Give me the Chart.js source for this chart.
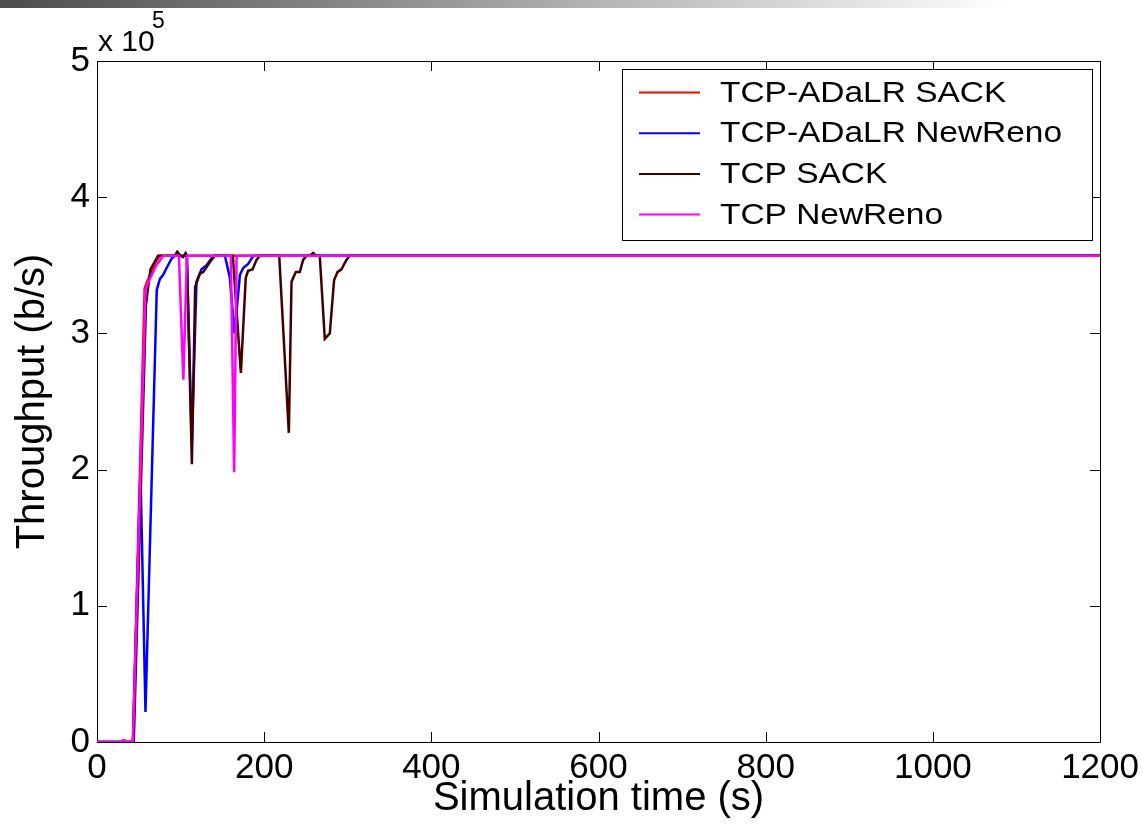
<!DOCTYPE html>
<html>
<head>
<meta charset="utf-8">
<title>Throughput vs simulation time</title>
<script src="https://cdn.jsdelivr.net/npm/chart.js@4.4.1/dist/chart.umd.min.js"></script>
<style>
  body { margin: 0; background: #fff; }
  #wrap { position: relative; width: 1144px; height: 827px; }
  #topbar { position: absolute; left: 0; top: 0; width: 1144px; height: 8px;
            background: linear-gradient(to right, #4c4c4c 0%, #9a9a9a 40%, #ffffff 88%); }
  canvas { position: absolute; left: 0; top: 0; }
</style>
</head>
<body>
<div id="wrap">
  <div id="topbar"></div>
  <canvas id="throughputChart" width="1144" height="827"></canvas>
</div>
<script>
// series data (time in s, throughput in b/s)
const adalrSackTime = [0, 43, 57, 60, 66, 70, 75, 1200];
const adalrSackRate = [0, 0, 333000, 338000, 346000, 352000, 357000, 357000];

const adalrRenoTime = [0, 43, 52, 58, 71.5, 75.3, 79.2, 83.3, 89.3, 93.2, 107.5, 113.5, 119, 125, 131, 137, 141,
                       153, 158.9, 164.5, 171, 174.9, 180.8, 186, 188, 1200];
const adalrRenoRate = [0, 0, 199000, 22000, 332000, 340000, 343000, 348000, 355000, 357000, 357000, 220000, 338000, 347000, 350000, 355000, 357000,
                       357000, 341000, 300000, 343000, 348000, 351000, 356000, 357000, 357000];

const sackTime = [0, 44, 58.5, 61, 64, 73, 93, 96, 100, 103, 106, 107.5, 113.5, 117.4, 123.1, 127.1, 137, 141,
                  162.5, 172.1, 178, 180.8, 186, 190.9, 194.8,
                  218, 229.5, 232.7, 237.8, 242.6, 246.6, 250.6, 255, 258.5, 262,
                  266.5, 272.5, 278.5, 283.6, 287.7, 292.4, 298.4, 302.4, 1200];
const sackRate = [0, 0, 320000, 333000, 347000, 357000, 357000, 360000, 357000, 356000, 359000, 357000, 204000, 334000, 344000, 345000, 354000, 357000,
                  357000, 271000, 341000, 346000, 347000, 354000, 357000,
                  357000, 227000, 338000, 345000, 345000, 354000, 357000, 357000, 359000, 357000,
                  357000, 296000, 300000, 339000, 345000, 347000, 354000, 357000, 357000];

const newRenoTime = [0, 28, 32, 36, 43, 58, 61, 71, 76, 79, 98, 103.3, 107.6, 160.1, 164.1, 167, 1200];
const newRenoRate = [0, 0, 1500, 0, 0, 332000, 337000, 350000, 354000, 357000, 357000, 266000, 357000, 357000, 198000, 357000, 357000];

const seriesLabels = ['TCP-ADaLR SACK', 'TCP-ADaLR NewReno', 'TCP SACK', 'TCP NewReno'];
const seriesColors = ['#ff0000', '#0000ff', '#400000', '#ff00ff'];

const xTicks = [0, 200, 400, 600, 800, 1000, 1200];
const yTicks = [0, 100000, 200000, 300000, 400000, 500000];

function toPoints(t, v) {
    return t.map((x, i) => ({ x: x, y: v[i] }));
}

// axes box with inward ticks, MATLAB style
const framePlugin = {
    id: 'frame',
    beforeDatasetsDraw(chart) {
        const ctx = chart.ctx;
        const a = chart.chartArea;
        const xs = chart.scales.x, ys = chart.scales.y;
        ctx.save();
        ctx.strokeStyle = '#000';
        ctx.lineWidth = 1;
        ctx.beginPath();
        ctx.rect(Math.round(a.left) + 0.5, Math.round(a.top) + 0.5,
                 Math.round(a.right - a.left), Math.round(a.bottom - a.top));
        xTicks.forEach(v => {
            const px = Math.round(xs.getPixelForValue(v)) + 0.5;
            ctx.moveTo(px, a.bottom); ctx.lineTo(px, a.bottom - 10);
            ctx.moveTo(px, a.top); ctx.lineTo(px, a.top + 10);
        });
        yTicks.forEach(v => {
            const py = Math.round(ys.getPixelForValue(v)) + 0.5;
            ctx.moveTo(a.left, py); ctx.lineTo(a.left + 10, py);
            ctx.moveTo(a.right, py); ctx.lineTo(a.right - 10, py);
        });
        ctx.stroke();
        ctx.restore();
    },
    afterDraw(chart) {
        const ctx = chart.ctx;
        ctx.save();
        ctx.fillStyle = '#000';
        ctx.textBaseline = 'alphabetic';
        ctx.font = '30px "Liberation Sans", Arial, sans-serif';
        ctx.fillText('x 10', 98, 51);
        ctx.font = '23px "Liberation Sans", Arial, sans-serif';
        ctx.fillText('5', 152, 28);
        ctx.restore();
    }
};

// legend box inside the plot, top right
const boxLegendPlugin = {
    id: 'boxLegend',
    afterDraw(chart) {
        const ctx = chart.ctx;
        const bx = 622, by = 69, bw = 470, bh = 171;
        ctx.save();
        ctx.fillStyle = '#fff';
        ctx.fillRect(bx, by, bw, bh);
        ctx.strokeStyle = '#000';
        ctx.lineWidth = 1;
        ctx.strokeRect(bx + 0.5, by + 0.5, bw, bh);
        ctx.font = '30px "Liberation Sans", Arial, sans-serif';
        ctx.textBaseline = 'middle';
        chart.data.datasets.forEach((ds, i) => {
            const y = 92.5 + i * 40.7;
            ctx.strokeStyle = ds.borderColor;
            ctx.lineWidth = 2;
            ctx.beginPath();
            ctx.moveTo(639, y);
            ctx.lineTo(700, y);
            ctx.stroke();
            ctx.fillStyle = '#000';
            ctx.save();
            ctx.translate(720, y + 1);
            ctx.scale(1.115, 1);
            ctx.fillText(ds.label, 0, 0);
            ctx.restore();
        });
        ctx.restore();
    }
};

document.addEventListener('DOMContentLoaded', function() {
    const ctx = document.getElementById('throughputChart').getContext('2d');
    const times = [adalrSackTime, adalrRenoTime, sackTime, newRenoTime];
    const rates = [adalrSackRate, adalrRenoRate, sackRate, newRenoRate];

    new Chart(ctx, {
        type: 'line',
        data: {
            datasets: seriesLabels.map((label, i) => ({
                label: label,
                data: toPoints(times[i], rates[i]),
                borderColor: seriesColors[i],
                backgroundColor: seriesColors[i],
                borderWidth: 2.5,
                pointRadius: 0,
                tension: 0,
                fill: false,
                // later series lie on top, as in the original figure
                order: seriesLabels.length - i
            }))
        },
        options: {
            responsive: false,
            animation: false,
            devicePixelRatio: 1,
            layout: { padding: { left: 0, right: 43, top: 61, bottom: 0 } },
            plugins: {
                legend: { display: false },
                tooltip: { enabled: false }
            },
            scales: {
                x: {
                    type: 'linear',
                    min: 0,
                    max: 1200,
                    afterBuildTicks: s => { s.ticks = xTicks.map(v => ({ value: v })); },
                    afterFit: s => { s.height = 85; },
                    grid: { display: false, drawTicks: false },
                    border: { display: false },
                    ticks: {
                        autoSkip: false,
                        maxRotation: 0,
                        color: '#000',
                        padding: 5,
                        font: { family: '"Liberation Sans", Arial, sans-serif', size: 35 },
                        callback: v => String(v)
                    },
                    title: {
                        display: true,
                        text: 'Simulation time (s)',
                        color: '#000',
                        padding: { top: 0, bottom: 4 },
                        font: { family: '"Liberation Sans", Arial, sans-serif', size: 40 }
                    }
                },
                y: {
                    min: 0,
                    max: 500000,
                    afterBuildTicks: s => { s.ticks = yTicks.map(v => ({ value: v })); },
                    afterFit: s => { s.width = 97; },
                    grid: { display: false, drawTicks: false },
                    border: { display: false },
                    ticks: {
                        autoSkip: false,
                        color: '#000',
                        padding: 7,
                        font: { family: '"Liberation Sans", Arial, sans-serif', size: 35 },
                        callback: v => String(v / 100000)
                    },
                    title: {
                        display: true,
                        text: 'Throughput (b/s)',
                        color: '#000',
                        padding: { top: 9, bottom: 0 },
                        font: { family: '"Liberation Sans", Arial, sans-serif', size: 40 }
                    }
                }
            }
        },
        plugins: [framePlugin, boxLegendPlugin]
    });
});
</script>
</body>
</html>
